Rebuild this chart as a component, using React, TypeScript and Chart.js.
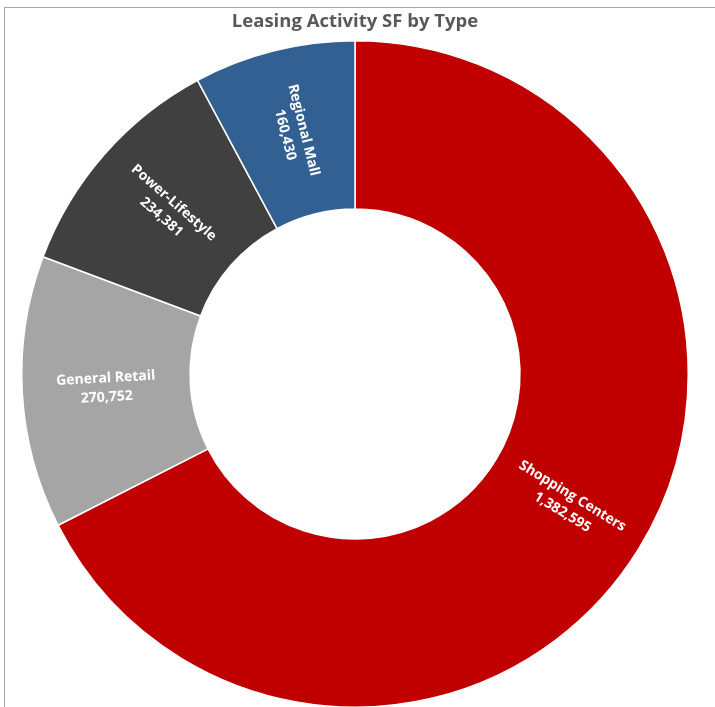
import React, { useEffect, useRef } from "react";
import { Chart, registerables } from "chart.js";

Chart.register(...registerables);

const titleText = "Leasing Activity SF by Type";
const categories = ["Shopping Centers", "General Retail", "Power-Lifestyle", "Regional Mall"];
const values = [1382595, 270752, 234381, 160430];
const colors = ["#C00000", "#A5A5A5", "#404040", "#336092"];

const fmt = (v: number) => v.toLocaleString("en-US");

const radialLabels = {
  id: "radialLabels",
  afterDatasetsDraw(chart: any) {
    const ctx = chart.ctx;
    const meta = chart.getDatasetMeta(0);
    ctx.save();
    ctx.fillStyle = "#FFFFFF";
    ctx.font = "bold 14px 'Open Sans', sans-serif";
    ctx.textAlign = "center";
    ctx.textBaseline = "middle";
    meta.data.forEach((arc: any, i: number) => {
      const p = arc.getProps(["x", "y", "startAngle", "endAngle", "innerRadius", "outerRadius"], true);
      const mid = (p.startAngle + p.endAngle) / 2;
      const r = (p.innerRadius + p.outerRadius) / 2;
      const px = p.x + Math.cos(mid) * r;
      const py = p.y + Math.sin(mid) * r;
      let rot = Math.atan2(Math.sin(mid), Math.cos(mid));
      if (rot > Math.PI / 2) rot -= Math.PI;
      if (rot <= -Math.PI / 2) rot += Math.PI;
      ctx.save();
      ctx.translate(px, py);
      ctx.rotate(rot);
      ctx.fillText(categories[i], 0, -9.5);
      ctx.fillText(fmt(values[i]), 0, 9.5);
      ctx.restore();
    });
    ctx.restore();
  },
};

export default function App() {
  const ref = useRef<HTMLCanvasElement | null>(null);
  useEffect(() => {
    if (!ref.current) return;
    const chart = new Chart(ref.current, {
      type: "doughnut",
      data: {
        labels: categories,
        datasets: [
          {
            data: values,
            backgroundColor: colors,
            borderColor: "#FFFFFF",
            borderWidth: 1.5,
          },
        ],
      },
      options: {
        responsive: false,
        animation: false,
        cutout: "49.5%",
        layout: { padding: { left: 21, right: 26, top: 0, bottom: 12 } },
        plugins: {
          legend: { display: false },
          tooltip: { enabled: false },
          title: {
            display: true,
            text: titleText,
            color: "#595959",
            font: { family: "'Open Sans', sans-serif", size: 18.5, weight: "bold", lineHeight: 1.2 },
            padding: { top: 10.9, bottom: 6.9 },
          },
        },
        events: [],
      },
      plugins: [radialLabels],
    });
    return () => chart.destroy();
  }, []);
  return (
    <div
      style={{
        position: "absolute",
        left: 0,
        top: 0,
        width: 715,
        height: 707,
        overflow: "hidden",
        background: "#fff",
      }}
    >
      <canvas ref={ref} width={715} height={720} style={{ position: "absolute", left: 0, top: 0 }} />
      <div
        style={{
          position: "absolute",
          left: 4,
          top: 7,
          width: 711,
          height: 700,
          borderTop: "1px solid #A6A6A6",
          borderLeft: "1px solid #A6A6A6",
          boxSizing: "border-box",
          pointerEvents: "none",
        }}
      />
    </div>
  );
}
